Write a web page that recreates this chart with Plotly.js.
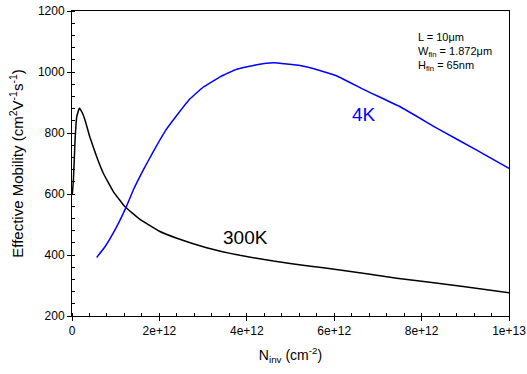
<!DOCTYPE html>
<html><head><meta charset="utf-8">
<script src="https://cdn.plot.ly/plotly-3.0.1.min.js"></script>
<style>html,body{margin:0;padding:0;background:#fff}#c{width:527px;height:374px}</style>
</head><body><div id="c"></div>
<script>
const nInv300K = [0.005e12, 0.03e12, 0.05e12, 0.07e12, 0.108e12, 0.167e12, 0.23e12, 0.297e12, 0.41e12, 0.565e12, 0.716e12, 0.945e12, 1.213e12, 1.556e12, 2.0e12, 2.4e12, 3.08e12, 3.84e12, 4.61e12, 5.37e12, 6.13e12, 7.43e12, 8.95e12, 10e12];
const mu300K   = [597, 640, 705, 777, 853, 881, 868, 843, 786, 722, 668, 608, 558, 517, 478, 455, 424, 399, 380, 365, 351, 324, 297, 276];
const nInv4K = [0.565e12, 0.755e12, 1.023e12, 1.236e12, 1.403e12, 1.632e12, 1.86e12, 2.15e12, 2.4e12, 2.7e12, 3.0e12, 3.4e12, 3.77e12, 4.2e12, 4.61e12, 5.22e12, 5.65e12, 6.06e12, 6.74e12, 7.51e12, 8.42e12, 9.26e12, 10e12];
const mu4K   = [392, 427, 493, 556, 613, 679, 739, 810, 858, 912, 950, 985, 1009, 1023, 1030, 1021, 1006, 987, 938, 886, 810, 744, 684];
const xTickVals = [0, 2e12, 4e12, 6e12, 8e12, 1e13];
const xTickText = ["0", "2e+12", "4e+12", "6e+12", "8e+12", "1e+13"];
const yTickVals = [200, 400, 600, 800, 1000, 1200];
const infoLines = ["L = 10μm", "W<sub>fin</sub> = 1.872μm", "H<sub>fin</sub> = 65nm"];

const font = "Liberation Sans, Arial, sans-serif";
const traces = [
  {x: nInv300K, y: mu300K, mode: "lines", line: {color: "#000000", width: 1.5, shape: "spline", smoothing: 0.3}, hoverinfo: "skip"},
  {x: nInv4K, y: mu4K, mode: "lines", line: {color: "#0000ff", width: 1.5, shape: "spline", smoothing: 0.3}, hoverinfo: "skip"}
];
const plotW = 527 - 72 - 18, plotH = 374 - 11 - 58;
const infoY = [37, 52, 66];
const layout = {
  width: 527, height: 374,
  margin: {l: 72, r: 18, t: 11, b: 58},
  paper_bgcolor: "#fff", plot_bgcolor: "#fff",
  showlegend: false,
  font: {family: font, size: 12, color: "#000"},
  xaxis: {
    range: [0, 1e13], tickvals: xTickVals, ticktext: xTickText,
    showgrid: false, zeroline: false, showline: true, linecolor: "#000", linewidth: 1, mirror: true,
    ticks: "outside", ticklen: 4, tickcolor: "#000",
    minor: {dtick: 4e11, ticks: "inside", ticklen: 3, tickcolor: "#000", showgrid: false},
    tickfont: {size: 12},
    title: {text: "N<sub>inv</sub> (cm<sup>-2</sup>)", font: {size: 14}, standoff: 12}
  },
  yaxis: {
    range: [200, 1200], tickvals: yTickVals,
    showgrid: false, zeroline: false, showline: true, linecolor: "#000", linewidth: 1, mirror: true,
    ticks: "outside", ticklen: 4, tickcolor: "#000",
    minor: {dtick: 40, ticks: "inside", ticklen: 3, tickcolor: "#000", showgrid: false},
    tickfont: {size: 12},
    title: {text: "Effective Mobility (cm<sup>2</sup>V<sup>-1</sup>s<sup>-1</sup>)", font: {size: 15}, standoff: 10}
  },
  annotations: [
    {x: 3.96e12, y: 459, xref: "x", yref: "y", text: "300K", showarrow: false, font: {size: 19, color: "#000"}},
    {x: 6.68e12, y: 862, xref: "x", yref: "y", text: "4K", showarrow: false, font: {size: 19, color: "#0000ff"}}
  ]
};
infoLines.forEach((t, i) => {
  layout.annotations.push({
    xref: "paper", yref: "paper",
    x: (416 - 72) / plotW, y: 1 - (infoY[i] - 11) / plotH,
    xanchor: "left", yanchor: "middle",
    text: t, showarrow: false, font: {size: 11, color: "#000"}
  });
});
Plotly.newPlot("c", traces, layout, {staticPlot: true});
</script></body></html>
